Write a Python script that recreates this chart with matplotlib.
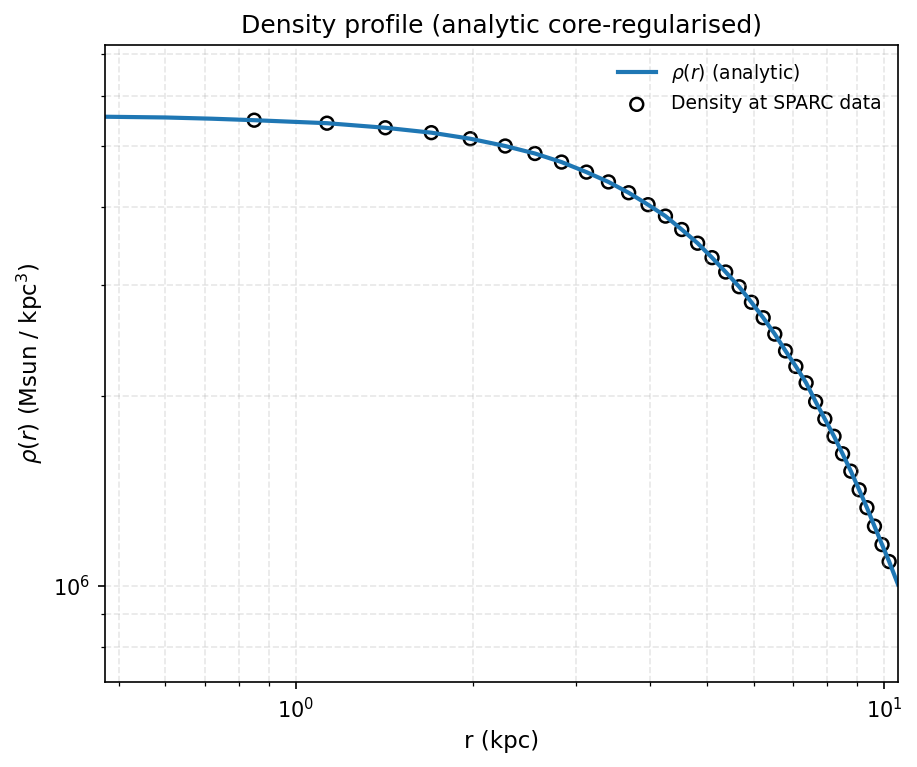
import numpy as np
import matplotlib
matplotlib.use("Agg")
import matplotlib.pyplot as plt

# SPARC sample radii (kpc) and density at those radii (1e6 Msun / kpc^3)
r_data = [0.85, 1.13, 1.42, 1.70, 1.98, 2.27, 2.55, 2.83, 3.12, 3.40,
          3.68, 3.97, 4.25, 4.53, 4.82, 5.10, 5.38, 5.67, 5.95, 6.23,
          6.52, 6.80, 7.08, 7.37, 7.65, 7.93, 8.22, 8.50, 8.78, 9.07,
          9.35, 9.63, 9.92, 10.20]
rho_data = [5.49, 5.43, 5.34, 5.245, 5.13, 4.995, 4.86, 4.71, 4.54, 4.38,
            4.21, 4.03, 3.865, 3.68, 3.50, 3.32, 3.15, 2.985, 2.82, 2.665,
            2.51, 2.36, 2.23, 2.10, 1.96, 1.84, 1.727, 1.62, 1.52, 1.42,
            1.33, 1.243, 1.162, 1.092]

# analytic curve, read at the ends plus the data radii
line_r = [0.474, 0.60, 0.72] + r_data + [10.56]
line_rho = [5.56, 5.545, 5.52] + rho_data + [1.004]

r_data = np.array(r_data)
rho_data = np.array(rho_data) * 1e6
line_r = np.array(line_r)
line_rho = np.array(line_rho) * 1e6

fig, ax = plt.subplots(figsize=(917 / 150, 767 / 150), dpi=150)
fig.subplots_adjust(left=0.1145, right=0.9793, top=0.9413, bottom=0.1108)

ax.scatter(r_data, rho_data, s=38, facecolors="none", edgecolors="k",
           linewidths=1.2, label="Density at SPARC data")
ax.plot(line_r, line_rho, color="tab:blue", lw=2, label=r"$\rho(r)$ (analytic)")

ax.set_xscale("log")
ax.set_yscale("log")
ax.set_xlim(0.474, 10.56)
ax.set_ylim(0.7 * line_rho.min(), 1.3 * line_rho.max())

ax.set_xlabel("r (kpc)", fontsize=11)
ax.set_ylabel(r"$\rho(r)$ (Msun / kpc$^3$)", fontsize=11)
ax.set_title("Density profile (analytic core-regularised)", fontsize=12)
ax.grid(True, which="both", ls="--", alpha=0.3)

handles, labels = ax.get_legend_handles_labels()
ax.legend(handles[::-1], labels[::-1], frameon=False, fontsize=9, loc="upper right")

fig.savefig("out.png", dpi=150)
